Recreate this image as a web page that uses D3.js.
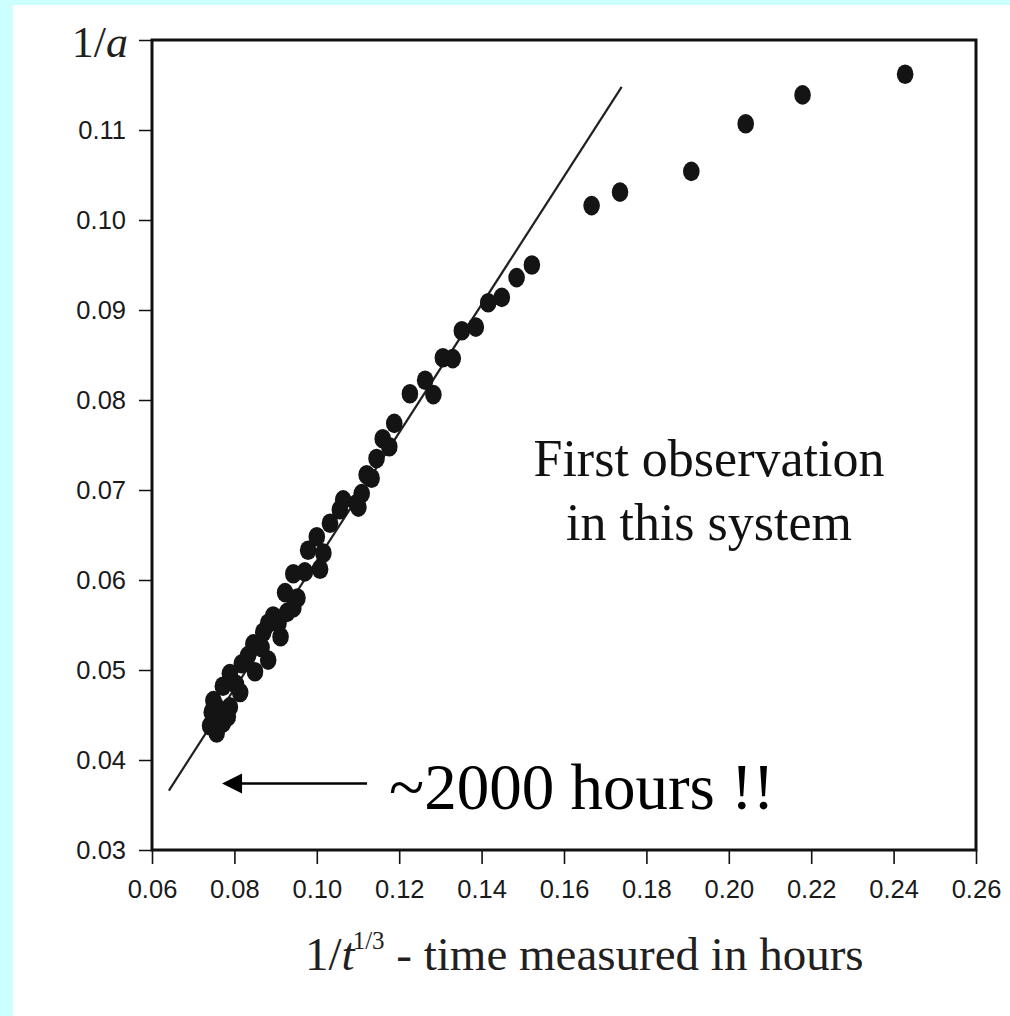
<html>
<head>
<script src="https://d3js.org/d3.v7.min.js"></script>
<style>
body { margin:0; background:#ccffff; overflow:hidden; }
</style>
</head>
<body onload='init()'>
<svg width=1010 height=1016></svg>
<script>
var xs = [0.0757,0.0741,0.0772,0.0745,0.0784,0.0749,0.0789,0.0772,0.0814,0.0789,
          0.0850,0.0818,0.0882,0.0846,0.0870,0.0912,0.0907,0.0882,0.0894,0.0923,
          0.0953,0.0943,0.0943,0.0971,0.1008,0.0979,0.1016,0.1000,0.1032,0.1056,
          0.1097,0.1064,0.1109,0.1101,0.1121,0.1133,0.1145,0.1176,0.1160,0.1188,
          0.1226,0.1283,0.1263,0.1306,0.1330,0.1352,0.1386,0.1416,0.1449,0.1485,
          0.1522,0.0804,0.0833,0.0760,0.0928,0.0755,0.0866,
          0.1667,0.1736,0.1909,0.2041,0.2179,0.2428];
var ys = [0.0430,0.0438,0.0441,0.0453,0.0448,0.0466,0.0459,0.0482,0.0475,0.0496,
          0.0498,0.0507,0.0511,0.0529,0.0542,0.0537,0.0552,0.0552,0.0560,0.0586,
          0.0580,0.0569,0.0607,0.0609,0.0612,0.0633,0.0630,0.0648,0.0663,0.0678,
          0.0685,0.0689,0.0696,0.0681,0.0717,0.0713,0.0735,0.0748,0.0757,0.0774,
          0.0807,0.0806,0.0822,0.0847,0.0846,0.0877,0.0881,0.0908,0.0914,0.0936,
          0.0950,0.0484,0.0516,0.0447,0.0564,0.0460,0.0525,
          0.1016,0.1031,0.1054,0.1107,0.1139,0.1162];

// straight line drawn through the early points
var fitX = [0.0641, 0.1740];
var fitY = [0.0366, 0.1148];

var xTicks = [0.06,0.08,0.10,0.12,0.14,0.16,0.18,0.20,0.22,0.24,0.26];
var yTicks = [0.03,0.04,0.05,0.06,0.07,0.08,0.09,0.10,0.11,0.12];

// arrow pointing back to the line
var arrowX = [0.0770, 0.1122];
var arrowY = 0.0374;

function init() {
  var svg = d3.select("svg");
  svg.append("rect").attr("x",13).attr("y",5).attr("width",1000).attr("height",1020).attr("fill","white");

  var x = d3.scaleLinear().domain([0.06,0.26]).range([152,976]);
  var y = d3.scaleLinear().domain([0.03,0.12]).range([850,40]);

  // y axis
  var ya = svg.append("g").attr("transform","translate(152,0)")
    .call(d3.axisLeft(y).tickValues(yTicks).tickSize(13).tickPadding(13)
      .tickFormat(function(d){ return d > 0.115 ? "" : d3.format(".2f")(d); }));
  ya.select(".domain").remove();
  ya.selectAll("line").attr("stroke","#111").attr("stroke-width",1.5);
  ya.selectAll("text").attr("font-family","Liberation Sans, Arial").attr("font-size",25.5).attr("fill","#1a1a1a");

  // x axis
  var xa = svg.append("g").attr("transform","translate(0,850)")
    .call(d3.axisBottom(x).tickValues(xTicks).tickSize(14).tickPadding(16)
      .tickFormat(d3.format(".2f")));
  xa.select(".domain").remove();
  xa.selectAll("line").attr("stroke","#111").attr("stroke-width",1.6);
  xa.selectAll("text").attr("font-family","Liberation Sans, Arial").attr("font-size",25.5).attr("fill","#1a1a1a");

  // frame
  svg.append("rect").attr("x",152).attr("y",40).attr("width",824).attr("height",810)
    .attr("fill","none").attr("stroke","#111").attr("stroke-width",3);

  // fit line
  svg.append("line")
    .attr("x1",x(fitX[0])).attr("y1",y(fitY[0]))
    .attr("x2",x(fitX[1])).attr("y2",y(fitY[1]))
    .attr("stroke","#231f20").attr("stroke-width",2.2);

  // points
  svg.append("g").selectAll("ellipse")
    .data(xs)
    .enter()
    .append("ellipse")
    .attr("cx", function(d){ return x(d); })
    .attr("cy", function(d,i){ return y(ys[i]); })
    .attr("rx", 8.3).attr("ry", 9.8)
    .attr("fill","#141414");

  // arrow
  svg.append("line")
    .attr("x1",x(arrowX[0])+18).attr("y1",y(arrowY))
    .attr("x2",x(arrowX[1])).attr("y2",y(arrowY))
    .attr("stroke","#000").attr("stroke-width",2.5);
  var tx = x(arrowX[0]), ty = y(arrowY);
  svg.append("path")
    .attr("d","M"+tx+","+ty+"L"+(tx+20)+","+(ty-10)+"L"+(tx+20)+","+(ty+10)+"Z")
    .attr("fill","#000");

  var serif = "Liberation Serif, Times New Roman, serif";

  svg.append("text").attr("x",389).attr("y",809)
    .attr("font-family",serif).attr("font-size",65).attr("fill","#000")
    .text("~2000 hours !!");

  var note = svg.append("text").attr("font-family",serif).attr("font-size",52)
    .attr("fill","#111").attr("text-anchor","middle");
  note.append("tspan").attr("x",709).attr("y",476).text("First observation");
  note.append("tspan").attr("x",709).attr("y",540).text("in this system");

  // y label 1/a
  var yl = svg.append("text").attr("x",128).attr("y",57).attr("text-anchor","end")
    .attr("font-family",serif).attr("font-size",44).attr("fill","#231f20");
  yl.append("tspan").text("1/");
  yl.append("tspan").attr("font-style","italic").text("a");

  // x label
  var xl = svg.append("text").attr("x",305).attr("y",970)
    .attr("font-family",serif).attr("font-size",47).attr("fill","#231f20");
  xl.append("tspan").text("1/");
  xl.append("tspan").attr("font-style","italic").text("t");
  xl.append("tspan").attr("font-size",25).attr("dy",-21).attr("dx",-2).text("1/3");
  xl.append("tspan").attr("dy",21).text(" - time measured in hours");
}
</script>
</body>
</html>
